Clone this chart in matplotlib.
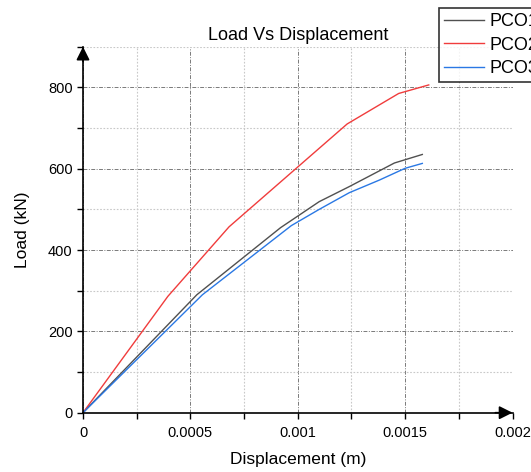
import matplotlib
matplotlib.use("Agg")
import matplotlib.pyplot as plt
from matplotlib.ticker import MultipleLocator

plt.rcParams['font.family'] = ['Liberation Sans', 'DejaVu Sans']

# Data
series_names = ["PCO1", "PCO2", "PCO3"]
pco1_disp = [0, 0.00053, 0.00092, 0.00110, 0.00124, 0.00145, 0.00158]
pco1_load = [0, 290, 455, 519, 556, 614, 635]
pco2_disp = [0, 0.000395, 0.00068, 0.00123, 0.00147, 0.00161]
pco2_load = [0, 286, 457, 710, 785, 806]
pco3_disp = [0, 0.000556, 0.00097, 0.00110, 0.00124, 0.00138, 0.00150, 0.00158]
pco3_load = [0, 290, 460, 500, 541, 572, 601, 613]
x_ticks = [0, 0.0005, 0.001, 0.0015, 0.002]
x_tick_labels = ["0", "0.0005", "0.001", "0.0015", "0.002"]
y_ticks = [0, 200, 400, 600, 800]

colors = ["#505050", "#f03c3c", "#2a78e4"]

fig = plt.figure(figsize=(5.31, 4.72), dpi=100)
ax = fig.add_axes([83/531, 1 - 412.7/472, (512.5 - 83)/531, (412.7 - 46.7)/472])

for d, l, c, n in zip([pco1_disp, pco2_disp, pco3_disp],
                      [pco1_load, pco2_load, pco3_load], colors, series_names):
    ax.plot(d, l, color=c, lw=1.0, label=n)

ax.set_xlim(0, 0.002)
ax.set_ylim(0, 900)
ax.set_xticks(x_ticks)
ax.set_xticklabels(x_tick_labels)
ax.set_yticks(y_ticks)
ax.xaxis.set_minor_locator(MultipleLocator(0.00025))
ax.yaxis.set_minor_locator(MultipleLocator(100))

ax.grid(which='major', color='#7a7a7a', linestyle=(0, (4, 1.5, 1, 1.5)), lw=0.7)
ax.grid(which='minor', color='#c8c8c8', linestyle=(0, (1.5, 1.5)), lw=0.8)
ax.set_axisbelow(True)

for s in ['top', 'right']:
    ax.spines[s].set_visible(False)
for s in ['left', 'bottom']:
    ax.spines[s].set_linewidth(1.2)
    ax.spines[s].set_color('black')

ax.tick_params(which='both', direction='out', length=4.5, width=1.0, labelsize=10.5, pad=3)
ax.tick_params(axis='x', pad=5)

# arrows (tips at axis ends)
ax.annotate('', xy=(0, 1.0), xytext=(0, 0.96), xycoords='axes fraction',
            arrowprops=dict(arrowstyle='-|>', color='black', lw=1.2,
                            mutation_scale=20, shrinkA=0, shrinkB=0),
            annotation_clip=False)
ax.annotate('', xy=(1.0, 0), xytext=(0.96, 0), xycoords='axes fraction',
            arrowprops=dict(arrowstyle='-|>', color='black', lw=1.2,
                            mutation_scale=20, shrinkA=0, shrinkB=0),
            annotation_clip=False)

ax.set_title("Load Vs Displacement", fontsize=13, pad=5)
ax.set_xlabel("Displacement (m)", fontsize=12.5, labelpad=9)
ax.set_ylabel("Load (kN)", fontsize=12.5, labelpad=13)

leg = fig.legend(loc='upper left', bbox_to_anchor=(439/531, 1 - 8/472),
                 bbox_transform=fig.transFigure, fontsize=13, frameon=True,
                 fancybox=False, handlelength=2.2, handletextpad=0.3,
                 borderpad=0.3, labelspacing=0.35, borderaxespad=0)
leg.get_frame().set_edgecolor('black')
leg.get_frame().set_linewidth(1.2)

fig.savefig("out.png", dpi=100)
